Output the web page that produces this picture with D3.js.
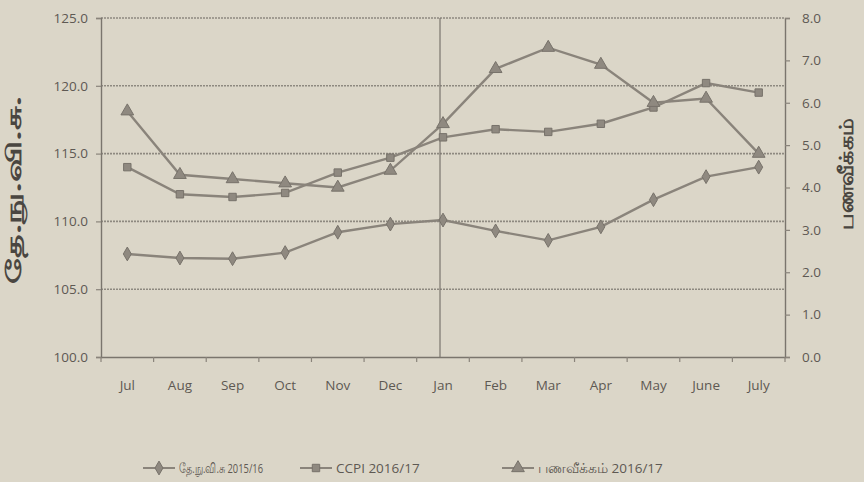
<!DOCTYPE html>
<html><head><meta charset="utf-8">
<script src="https://cdn.jsdelivr.net/npm/d3@7"></script>
<style>
html,body{margin:0;padding:0;background:#dbd6c8;}
svg{display:block;}
text{font-family:"Open Sans","Liberation Sans",sans-serif;}
</style></head><body>
<svg id="c" width="864" height="482"></svg>
<script>
const months = ["Jul","Aug","Sep","Oct","Nov","Dec","Jan","Feb","Mar","Apr","May","June","July"];
const ccpi1516 = [107.6,107.3,107.25,107.7,109.2,109.8,110.1,109.3,108.6,109.6,111.6,113.3,114.0];
const ccpi1617 = [114.0,112.0,111.8,112.1,113.6,114.7,116.2,116.8,116.6,117.2,118.4,120.2,119.5];
const infl1617 = [5.8,4.3,4.2,4.1,4.0,4.4,5.5,6.8,7.3,6.9,6.0,6.1,4.8];
const leftTicks = [100,105,110,115,120,125];
const rightTicks = [0,1,2,3,4,5,6,7,8];
const legendLabels = ["தே.நு.வி.சு 2015/16","CCPI 2016/17","பணவீக்கம் 2016/17"];

const svg = d3.select("#c");
const L=101, R=785, T=18, B=357;
const line = "#8a847b", txt="#5e5953", grid="#8e8980";

svg.append("rect").attr("width",864).attr("height",482).attr("fill","#dbd6c8");

const x = d3.scaleBand().domain(months).range([L,R]);
const yL = d3.scaleLinear().domain([100,125]).range([B,T]);
const yR = d3.scaleLinear().domain([0,8]).range([B,T]);
const cx = m => x(m)+x.bandwidth()/2;

// grid
svg.append("g").selectAll("line").data(leftTicks.filter(d=>d>100)).join("line")
  .attr("x1",L).attr("x2",R).attr("y1",d=>yL(d)).attr("y2",d=>yL(d))
  .attr("stroke",grid).attr("stroke-width",1.6).attr("stroke-dasharray","2,1");

// vertical line at Jan
svg.append("line").attr("x1",cx("Jan")-3).attr("x2",cx("Jan")-3).attr("y1",T).attr("y2",B)
  .attr("stroke","#7a756d").attr("stroke-width",1.2);

// left axis
const gL = svg.append("g").attr("transform",`translate(${L},0)`)
  .call(d3.axisLeft(yL).tickValues(leftTicks).tickFormat(d3.format(".1f")).tickSize(5).tickPadding(8));
// right axis
const gR = svg.append("g").attr("transform",`translate(${R},0)`)
  .call(d3.axisRight(yR).tickValues(rightTicks).tickFormat(d3.format(".1f")).tickSize(5).tickPadding(12));
// bottom axis
const gB = svg.append("g").attr("transform",`translate(0,${B})`)
  .call(d3.axisBottom(x).tickSize(0).tickPadding(23));
gB.selectAll("line.bnd").data(months.concat(["_end"])).join("line").attr("class","bnd")
  .attr("x1",(d,i)=>L+i*x.step()).attr("x2",(d,i)=>L+i*x.step()).attr("y1",0).attr("y2",5)
  .attr("stroke",line).attr("stroke-width",1.2);

[gL,gR,gB].forEach(g=>{
  g.selectAll(".domain").attr("stroke","#7a756d").attr("stroke-width",1.4);
  g.selectAll(".tick line").attr("stroke",line).attr("stroke-width",1.2);
  g.selectAll("text").attr("fill",txt).attr("font-size",13.5);
});

// series
const series = [
  {vals:ccpi1516, y:yL, shape:d3.symbolDiamond, size:55},
  {vals:ccpi1617, y:yL, shape:d3.symbolSquare, size:55},
  {vals:infl1617, y:yR, shape:d3.symbolTriangle, size:70}
];
series.forEach(s=>{
  const gen = d3.line().x((d,i)=>cx(months[i])).y(d=>s.y(d));
  svg.append("path").attr("d",gen(s.vals)).attr("fill","none")
    .attr("stroke",line).attr("stroke-width",2.4);
  svg.append("g").selectAll("path").data(s.vals).join("path")
    .attr("transform",(d,i)=>`translate(${cx(months[i])},${s.y(d)})`)
    .attr("d",d3.symbol().type(s.shape).size(s.size))
    .attr("fill","#8f8980").attr("stroke","#77726a").attr("stroke-width",1);
});

// axis titles
svg.append("text").attr("transform","translate(21,190) rotate(-90)")
  .attr("text-anchor","middle").attr("font-size",21).attr("font-weight","bold")
  .attr("textLength",188).attr("lengthAdjust","spacingAndGlyphs")
  .attr("fill","#4a4641").text("தே.நு.வி.சு.");
svg.append("text").attr("transform","translate(853,174) rotate(-90)")
  .attr("text-anchor","middle").attr("font-size",20).attr("font-weight","bold")
  .attr("textLength",112).attr("lengthAdjust","spacingAndGlyphs")
  .attr("fill","#4a4641").text("பணவீக்கம்");

// legend
const legX = [143, 300, 502];
const legLen = [84, null, null];
const legY = 468;
series.forEach((s,i)=>{
  const g = svg.append("g").attr("transform",`translate(${legX[i]},${legY})`);
  g.append("line").attr("x1",0).attr("x2",32).attr("y1",0).attr("y2",0)
    .attr("stroke",line).attr("stroke-width",2);
  g.append("path").attr("transform","translate(16,0)")
    .attr("d",d3.symbol().type(s.shape).size(s.size)).attr("fill","#8f8980").attr("stroke","#77726a");
  const t = g.append("text").attr("x",36).attr("y",5).attr("font-size",13.5).attr("fill",txt).text(legendLabels[i]);
  if (legLen[i]) t.attr("textLength",legLen[i]).attr("lengthAdjust","spacingAndGlyphs");
});
</script>
</body></html>
